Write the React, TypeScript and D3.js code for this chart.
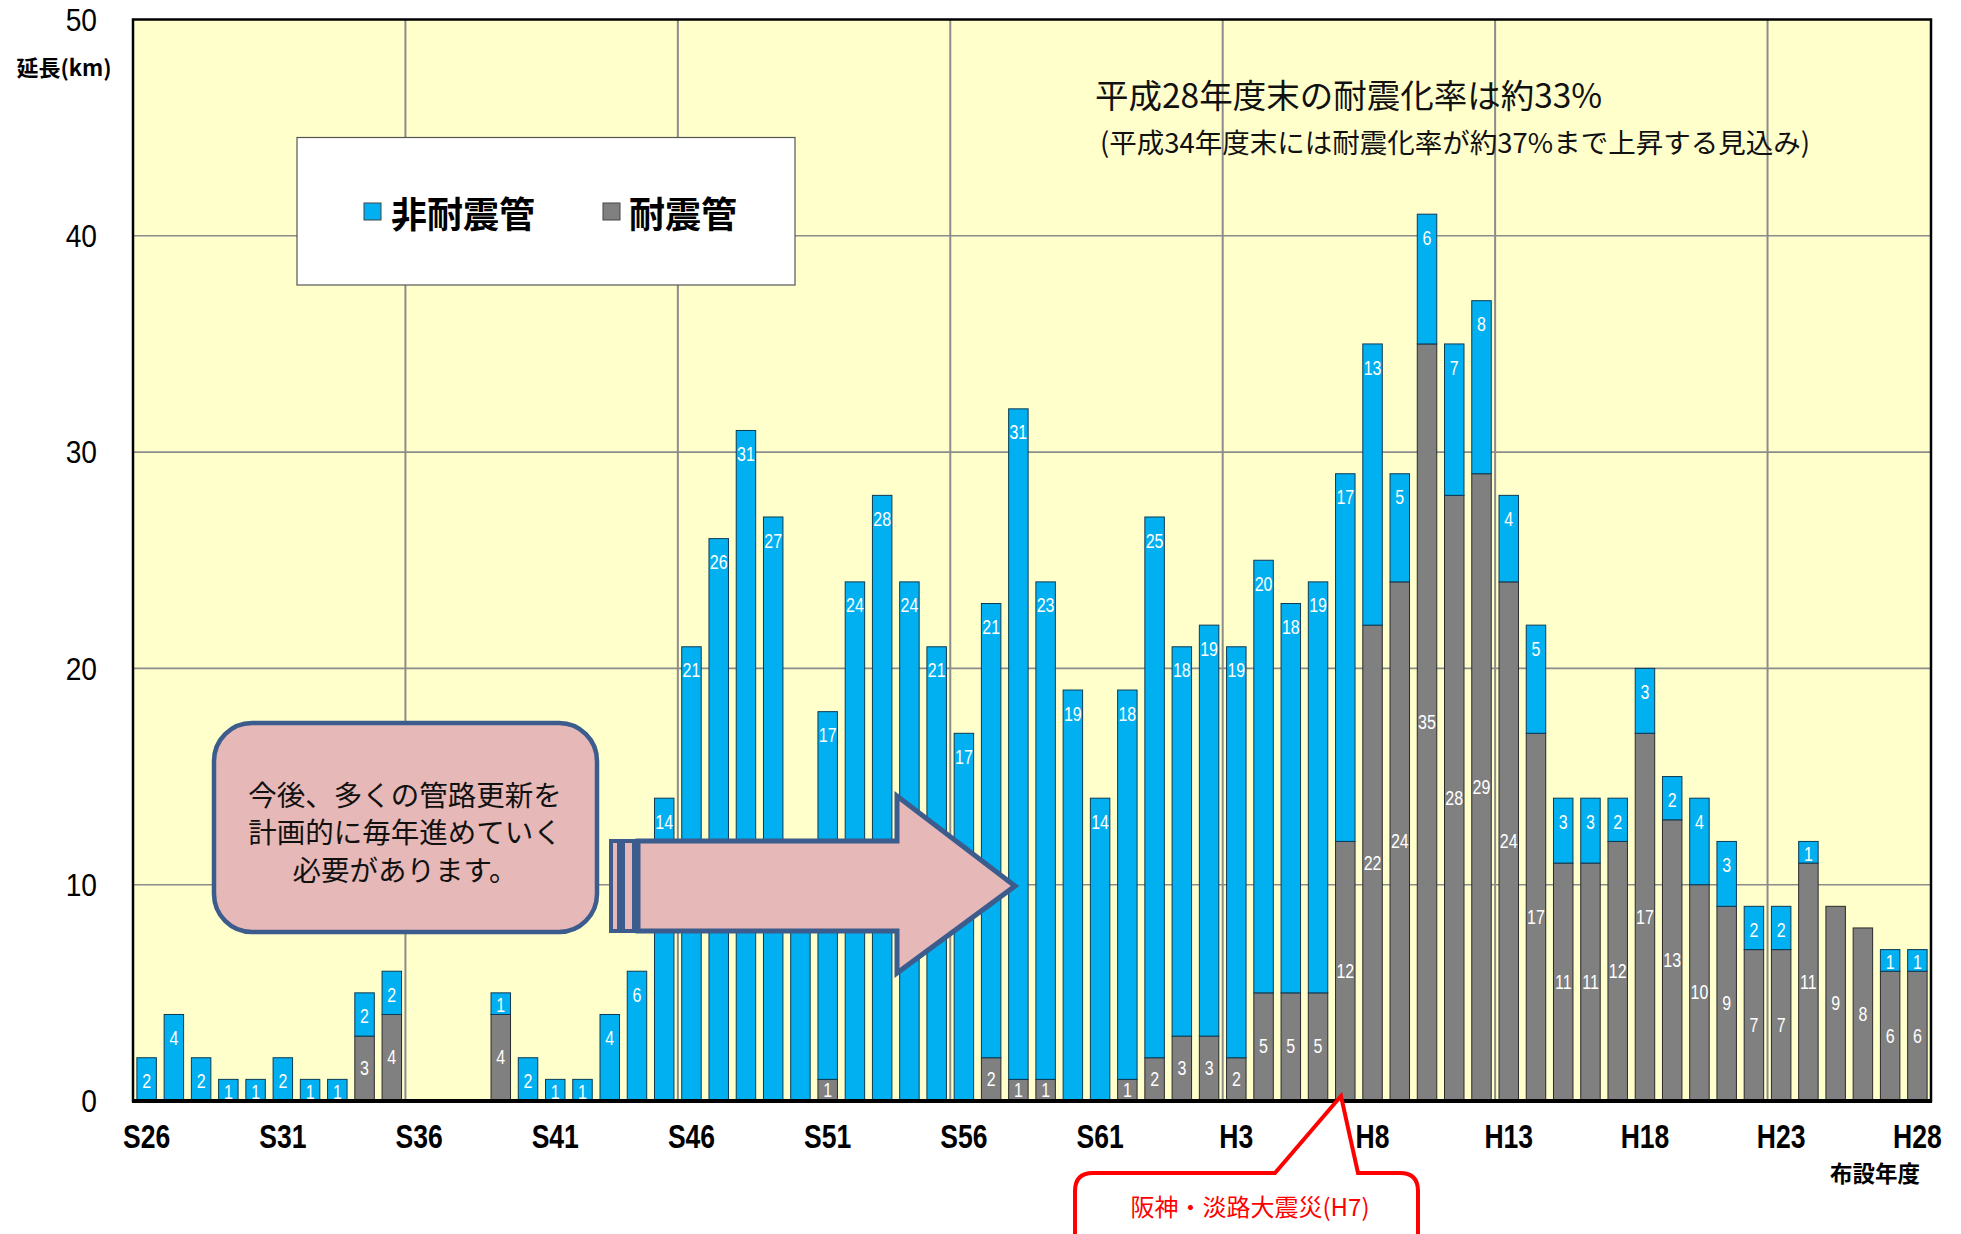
import React from "react";
import * as d3 from "d3";

const years = [
  "S26","S27","S28","S29","S30","S31","S32","S33","S34","S35",
  "S36","S37","S38","S39","S40","S41","S42","S43","S44","S45",
  "S46","S47","S48","S49","S50","S51","S52","S53","S54","S55",
  "S56","S57","S58","S59","S60","S61","S62","S63","H1","H2",
  "H3","H4","H5","H6","H7","H8","H9","H10","H11","H12",
  "H13","H14","H15","H16","H17","H18","H19","H20","H21","H22",
  "H23","H24","H25","H26","H27","H28",
];

// 耐震管 (gray, bottom)
const seismic = [
  0,0,0,0,0,0,0,0,3,4,
  0,0,0,4,0,0,0,0,0,0,
  0,0,0,0,0,1,0,0,0,0,
  0,2,1,1,0,0,1,2,3,3,
  2,5,5,5,12,22,24,35,28,29,
  24,17,11,11,12,17,13,10,9,7,
  7,11,9,8,6,6,
];

// 非耐震管 (blue, top)
const nonSeismic = [
  2,4,2,1,1,2,1,1,2,2,
  0,0,0,1,2,1,1,4,6,14,
  21,26,31,27,10,17,24,28,24,21,
  17,21,31,23,19,14,18,25,18,19,
  19,20,18,19,17,13,5,6,7,8,
  4,5,3,3,2,3,2,4,3,2,
  2,1,0,0,1,1,
];

const xTickLabels = ["S26","S31","S36","S41","S46","S51","S56","S61","H3","H8","H13","H18","H23","H28"];
const yTicks = [0, 10, 20, 30, 40, 50];

const calloutLines = ["今後、多くの管路更新を", "計画的に毎年進めていく", "必要があります。"];

const W = 1961, H = 1234;
const L = 133, R = 1931, T = 19.5, B = 1101;

const BLUE = "#00B0F0";
const GRAY = "#808080";
const JP = "'Noto Sans CJK JP', 'Noto Sans', sans-serif";
const LAT = "'Liberation Sans', Arial, sans-serif";

function NText({ x, y, sx = 0.85, anchor = "middle", size, weight = 400, fill = "#000", family = LAT, children }: any) {
  return (
    <text
      transform={`translate(${x},${y}) scale(${sx},1)`}
      textAnchor={anchor}
      dominantBaseline="central"
      fontSize={size}
      fontWeight={weight}
      fill={fill}
      fontFamily={family}
    >
      {children}
    </text>
  );
}

export default function App() {
  const x = d3.scaleBand<string>().domain(years).range([L, R]).paddingInner(0.285).paddingOuter(0.1425);
  const y = d3.scaleLinear().domain([0, 50]).range([B, T]);
  const step = x.step();
  const bw = x.bandwidth();

  const vGrid = d3.range(1, 7).map((k) => L + step * k * 10);

  const arrowBody = [
    [638, 841], [897, 841], [897, 796], [1015, 886], [897, 973], [897, 931], [638, 931],
  ];
  const arrowPath = d3.line()(arrowBody as [number, number][]) + "Z";

  const r = 18;
  const redPath = `M1075,1260 L1075,${1173 + r} Q1075,1173 ${1075 + r},1173 L1275,1173 L1341,1096 L1358,1173 L${1418 - r},1173 Q1418,1173 1418,${1173 + r} L1418,1260`;

  return (
    <svg width={W} height={H} style={{ position: "absolute", left: 0, top: 0, background: "#fff" }}>
      <rect x={0} y={0} width={W} height={H} fill="#fff" />
      <rect x={L} y={T} width={R - L} height={B - T} fill="#FFFFCC" />
      {yTicks.slice(1, 5).map((t) => (
        <line key={"h" + t} x1={L} x2={R} y1={y(t)} y2={y(t)} stroke="#8c8c8c" strokeWidth={1.6} />
      ))}
      {vGrid.map((gx, i) => (
        <line key={"v" + i} x1={gx} x2={gx} y1={T} y2={B} stroke="#8c8c8c" strokeWidth={2} />
      ))}

      {years.map((yr, i) => {
        const bx = x(yr)!;
        const g = seismic[i];
        const b = nonSeismic[i];
        return (
          <g key={yr}>
            {g > 0 && (
              <rect x={bx} y={y(g)} width={bw} height={y(0) - y(g)} fill={GRAY} stroke="#2a2a2a" strokeWidth={1} />
            )}
            {b > 0 && (
              <rect x={bx} y={y(g + b)} width={bw} height={y(g) - y(g + b)} fill={BLUE} stroke="#0e3a55" strokeWidth={1} />
            )}
          </g>
        );
      })}
      {years.map((yr, i) => {
        const cx = x(yr)! + bw / 2;
        const g = seismic[i];
        const b = nonSeismic[i];
        const segH = y(g) - y(g + b);
        return (
          <g key={"l" + yr}>
            {g > 0 && (
              <NText x={cx} y={(y(0) + y(g)) / 2} size={19.5} weight={500} fill="#fff" sx={0.82}>{g}</NText>
            )}
            {b > 0 && (
              <NText x={cx} y={y(g + b) + Math.min(24, segH * 0.6)} size={19.5} weight={500} fill="#fff" sx={0.82}>{b}</NText>
            )}
          </g>
        );
      })}

      <rect x={L} y={T} width={R - L} height={B - T} fill="none" stroke="#000" strokeWidth={2.5} />
      <line x1={L - 1} x2={R + 1} y1={B} y2={B} stroke="#000" strokeWidth={4} />

      {yTicks.map((t) => (
        <NText key={"yt" + t} x={97} y={y(t)} anchor="end" size={32} sx={0.88}>{t}</NText>
      ))}
      <text x={64} y={66} textAnchor="middle" dominantBaseline="central" fontSize={22} fontWeight={700} fontFamily={JP}>延長(km)</text>

      {xTickLabels.map((lb) => (
        <NText key={"xt" + lb} x={x(lb)! + bw / 2} y={1136} size={34} weight={700} sx={0.78}>{lb}</NText>
      ))}
      <text x={1875} y={1172} textAnchor="middle" dominantBaseline="central" fontSize={22.5} fontWeight={700} fontFamily={JP}>布設年度</text>

      <rect x={297} y={137.5} width={498} height={147.5} fill="#fff" stroke="#555" strokeWidth={1.2} />
      <rect x={364} y={203} width={17} height={17} fill={BLUE} stroke="#444" strokeWidth={1} />
      <text x={391} y={212} dominantBaseline="central" fontSize={36} fontWeight={700} fontFamily={JP}>非耐震管</text>
      <rect x={603} y={203} width={17} height={17} fill={GRAY} stroke="#444" strokeWidth={1} />
      <text x={629} y={212} dominantBaseline="central" fontSize={36} fontWeight={700} fontFamily={JP}>耐震管</text>

      <text x={1095} y={93} dominantBaseline="central" fontSize={33.5} fontWeight={400} fontFamily={JP} fill="#111">平成28年度末の耐震化率は約33%</text>
      <text x={1100} y={141} dominantBaseline="central" fontSize={27.5} fontWeight={400} fontFamily={JP} fill="#111">(平成34年度末には耐震化率が約37%まで上昇する見込み)</text>

      <rect x={611} y={841} width={8} height={90} fill="#E6B8B7" stroke="#3B5C8C" strokeWidth={4} />
      <rect x={623} y={841} width={11} height={90} fill="#E6B8B7" stroke="#3B5C8C" strokeWidth={4} />
      <path d={arrowPath} fill="#E6B8B7" stroke="#3B5C8C" strokeWidth={5} strokeLinejoin="miter" />

      <rect x={214} y={723} width={383} height={209} rx={38} ry={38} fill="#E6B8B7" stroke="#3B5C8C" strokeWidth={4.5} />
      {calloutLines.map((ln, i) => (
        <text key={"c" + i} x={405} y={793 + i * 37.5} textAnchor="middle" dominantBaseline="central" fontSize={28.5} fontFamily={JP} fill="#111">{ln}</text>
      ))}

      <path d={redPath} fill="#fff" stroke="#FF0000" strokeWidth={4} strokeLinejoin="miter" />
      <text x={1250} y={1205} textAnchor="middle" dominantBaseline="central" fontSize={24} fontFamily={JP} fill="#FF0000">阪神・淡路大震災(H7)</text>
    </svg>
  );
}
